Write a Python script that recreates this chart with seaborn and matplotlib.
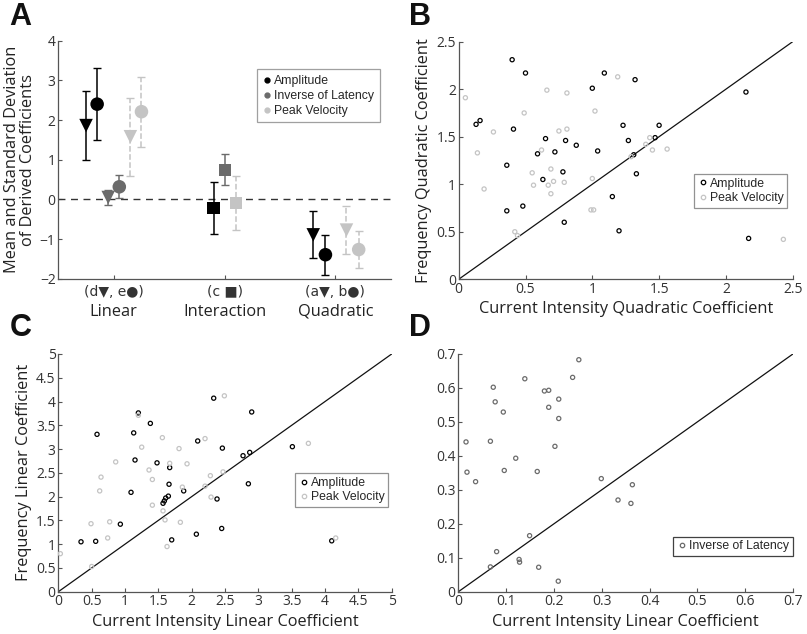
import numpy as np
import pandas as pd
import matplotlib
matplotlib.use('Agg')
import matplotlib.pyplot as plt
import matplotlib.transforms as mtransforms
import seaborn as sns

sns.set_theme(style='white')
plt.rcParams['font.family'] = ['Open Sans', 'DejaVu Sans']
plt.rcParams['xtick.direction'] = 'in'
plt.rcParams['ytick.direction'] = 'in'

# ---------------- panel A data ----------------
categories = ['Linear', 'Interaction', 'Quadratic']
cat_tags = ['(d\u25bc, e\u25cf)', '(c \u25a0)', '(a\u25bc, b\u25cf)']
measures = ['Amplitude', 'Inverse of Latency', 'Peak Velocity']

a_category = ['Linear', 'Linear', 'Linear', 'Linear', 'Linear', 'Linear',
              'Interaction', 'Interaction', 'Interaction',
              'Quadratic', 'Quadratic', 'Quadratic', 'Quadratic']
a_measure = ['Amplitude', 'Amplitude', 'Inverse of Latency', 'Inverse of Latency',
             'Peak Velocity', 'Peak Velocity',
             'Amplitude', 'Inverse of Latency', 'Peak Velocity',
             'Amplitude', 'Amplitude', 'Peak Velocity', 'Peak Velocity']
a_coef = ['d', 'e', 'd', 'e', 'd', 'e', 'c', 'c', 'c', 'a', 'b', 'a', 'b']
a_mean = [1.86, 2.40, 0.05, 0.32, 1.58, 2.21, -0.22, 0.75, -0.10, -0.89, -1.39, -0.77, -1.26]
a_sd = [0.87, 0.91, 0.18, 0.29, 0.98, 0.88, 0.66, 0.39, 0.68, 0.59, 0.50, 0.61, 0.46]

# ---------------- panel B data ----------------
b_amp_x = [0.40, 0.50, 1.09, 1.32, 1.00, 2.15, 0.13, 0.16, 0.41, 1.23, 1.50, 0.65, 0.80,
           0.88, 1.27, 1.47, 0.59, 0.72, 1.04, 1.31, 0.36, 0.78, 1.33, 0.63, 1.15, 0.36,
           0.48, 0.79, 1.20, 2.17]
b_amp_y = [2.31, 2.17, 2.17, 2.10, 2.01, 1.97, 1.63, 1.67, 1.58, 1.62, 1.62, 1.48, 1.46,
           1.41, 1.46, 1.49, 1.32, 1.34, 1.35, 1.31, 1.20, 1.13, 1.11, 1.05, 0.87, 0.72,
           0.77, 0.60, 0.51, 0.43]
b_pv_x = [0.05, 1.19, 0.66, 0.81, 0.49, 1.02, 0.26, 0.75, 0.81, 0.14, 0.62, 1.43, 1.40,
          1.45, 1.56, 1.29, 0.69, 0.55, 0.56, 0.67, 0.71, 0.79, 1.00, 0.69, 0.19, 0.99,
          1.01, 0.42, 0.44, 2.43]
b_pv_y = [1.91, 2.13, 1.99, 1.96, 1.75, 1.77, 1.55, 1.56, 1.58, 1.33, 1.36, 1.49, 1.42,
          1.36, 1.37, 1.29, 1.16, 1.12, 0.99, 0.99, 1.03, 1.02, 1.06, 0.90, 0.95, 0.73,
          0.73, 0.50, 0.46, 0.42]

# ---------------- panel C data ----------------
c_amp_x = [2.33, 2.90, 1.20, 1.38, 0.58, 1.13, 2.09, 2.46, 2.77, 2.87, 3.51, 1.15, 1.48,
           1.67, 1.66, 2.85, 1.09, 1.88, 1.65, 1.61, 1.59, 1.57, 2.38, 0.93, 0.34, 0.56,
           1.70, 2.07, 2.45, 4.10]
c_amp_y = [4.07, 3.78, 3.76, 3.54, 3.31, 3.34, 3.17, 3.02, 2.86, 2.93, 3.05, 2.77, 2.71,
           2.61, 2.26, 2.27, 2.09, 2.12, 2.01, 1.97, 1.91, 1.86, 1.95, 1.42, 1.05, 1.06,
           1.09, 1.21, 1.33, 1.07]
c_pv_x = [2.49, 1.20, 3.75, 2.20, 1.56, 1.25, 1.81, 0.86, 1.67, 1.93, 1.36, 2.47, 0.64,
          1.41, 2.28, 1.86, 2.20, 0.62, 2.29, 1.41, 1.57, 0.49, 0.77, 1.60, 1.83, 0.74,
          1.63, 0.50, 0.03, 4.16]
c_pv_y = [4.12, 3.71, 3.12, 3.22, 3.24, 3.04, 3.01, 2.73, 2.70, 2.69, 2.56, 2.52, 2.41,
          2.36, 2.44, 2.20, 2.22, 2.12, 1.99, 1.82, 1.70, 1.43, 1.47, 1.51, 1.46, 1.13,
          0.95, 0.53, 0.80, 1.13]

# ---------------- panel D data ----------------
d_lat_x = [0.252, 0.239, 0.139, 0.073, 0.180, 0.189, 0.077, 0.210, 0.189, 0.094, 0.210,
           0.016, 0.067, 0.202, 0.120, 0.018, 0.096, 0.165, 0.036, 0.299, 0.364, 0.334,
           0.361, 0.149, 0.080, 0.127, 0.128, 0.067, 0.168, 0.209]
d_lat_y = [0.683, 0.631, 0.627, 0.602, 0.591, 0.593, 0.559, 0.567, 0.543, 0.529, 0.510,
           0.441, 0.443, 0.428, 0.393, 0.352, 0.357, 0.354, 0.324, 0.333, 0.315, 0.270,
           0.260, 0.165, 0.118, 0.095, 0.087, 0.073, 0.072, 0.031]

colors = {'Amplitude': '#000000', 'Inverse of Latency': '#6b6b6b', 'Peak Velocity': '#c4c4c4'}
markers = {'a': 'v', 'b': 'o', 'c': 's', 'd': 'v', 'e': 'o'}
# horizontal dodge of each point in panel A
dodge = [-0.25, -0.15, -0.05, 0.05, 0.15, 0.25, -0.1, 0.0, 0.1, -0.2, -0.09, 0.1, 0.21]

tick_c = '#333333'
spine_c = '#555555'
label_fs = 11.8

fig = plt.figure(figsize=(8.07, 6.34), dpi=100)
axA = fig.add_axes([0.0723, 0.560, 0.412, 0.376])
axB = fig.add_axes([0.5684, 0.5595, 0.4139, 0.3748])
axC = fig.add_axes([0.0723, 0.0667, 0.4131, 0.375])
axD = fig.add_axes([0.568, 0.0667, 0.4146, 0.375])


def style_axes(ax):
    sns.despine(ax=ax)
    for s in ['left', 'bottom']:
        ax.spines[s].set_color(spine_c)
        ax.spines[s].set_linewidth(0.9)
    ax.tick_params(axis='both', colors=spine_c, labelcolor=tick_c, labelsize=10,
                   length=3, width=0.8, pad=2, left=True, bottom=True)


# ---------------- panel A ----------------
dfA = pd.DataFrame({'category': a_category, 'measure': a_measure, 'coef': a_coef,
                    'mean': a_mean, 'sd': a_sd})
dfA['x'] = dfA['category'].map({c: i + 1 for i, c in enumerate(categories)}) + np.array(dodge)

axA.axhline(0, color='#333333', lw=1.0, ls=(0, (5, 4)), zorder=1)
for _, r in dfA.iterrows():
    ls = '--' if r['measure'] == 'Peak Velocity' else '-'
    eb = axA.errorbar(r['x'], r['mean'], yerr=r['sd'], fmt='none', ecolor=colors[r['measure']],
                      elinewidth=1.1, capsize=3, capthick=1.0, zorder=2)
    eb[2][0].set_linestyle(ls)
for mk in ['v', 'o', 's']:
    sub = dfA[dfA['coef'].map(markers) == mk]
    sns.scatterplot(data=sub, x='x', y='mean', hue='measure', palette=colors, marker=mk,
                    s=95 if mk != 's' else 75, edgecolor='none', legend=False, ax=axA, zorder=3)
axA.set_xlim(0.5, 3.5)
axA.set_ylim(-2, 4)
axA.set_yticks([-2, -1, 0, 1, 2, 3, 4])
axA.set_xticks([1, 2, 3])
axA.set_xticklabels(cat_tags, family=['DejaVu Sans'], fontsize=8.5)
style_axes(axA)
axA.tick_params(axis='x', pad=4)
trans = mtransforms.blended_transform_factory(axA.transData, axA.transAxes)
for i, c in enumerate(categories):
    axA.text(i + 1, -0.137, c, transform=trans, ha='center', va='center', fontsize=label_fs,
             color='#222222')
axA.set_xlabel('')
axA.set_ylabel('Mean and Standard Deviation\nof Derived Coefficients', fontsize=label_fs,
               color='#222222', labelpad=3, linespacing=1.0)
handles = [plt.Line2D([], [], marker='o', ls='none', color=colors[m], markersize=3.5, label=m)
           for m in measures]
leg = axA.legend(handles=handles, loc='upper left', bbox_to_anchor=(0.578, 0.905),
                 frameon=True, fancybox=False, handletextpad=0.2, handlelength=0.8,
                 borderpad=0.45, labelspacing=0.25, prop={'family': 'Liberation Sans', 'size': 8.8})
leg.get_frame().set_edgecolor('#888888')
leg.get_frame().set_linewidth(0.9)


# ---------------- scatter panels ----------------
def scatter_panel(ax, series, lim, ticks, xlabel, ylabel, leg_loc, leg_anchor, leg_edge):
    rows = []
    for name, xs, ys in series:
        rows.append(pd.DataFrame({'x': xs, 'y': ys, 'measure': name}))
    df = pd.concat(rows, ignore_index=True)
    ax.plot([0, lim], [0, lim], color='#111111', lw=0.9, zorder=1)
    for name, _, _ in series:
        sub = df[df['measure'] == name]
        sns.scatterplot(data=sub, x='x', y='y', marker='o', s=9, facecolor='none',
                        edgecolor=colors[name], linewidth=0.9, legend=False, ax=ax, zorder=3)
    ax.set_xlim(0, lim)
    ax.set_ylim(0, lim)
    ax.set_xticks(ticks)
    ax.set_yticks(ticks)
    ax.set_xticklabels([f'{t:g}' for t in ticks])
    ax.set_yticklabels([f'{t:g}' for t in ticks])
    style_axes(ax)
    ax.set_xlabel(xlabel, fontsize=label_fs, color='#222222', labelpad=3)
    ax.set_ylabel(ylabel, fontsize=label_fs, color='#222222', labelpad=3)
    handles = [plt.Line2D([], [], marker='o', ls='none', markerfacecolor='none',
                          markeredgecolor=colors[n], markeredgewidth=0.9, markersize=3.2, label=n)
               for n, _, _ in series]
    lg = ax.legend(handles=handles, loc=leg_loc, bbox_to_anchor=leg_anchor, frameon=True,
                   fancybox=False, handletextpad=0.2, handlelength=0.8, borderpad=0.3,
                   borderaxespad=0, labelspacing=0.2,
                   prop={'family': 'Liberation Sans', 'size': 8.8})
    lg.get_frame().set_edgecolor(leg_edge)
    lg.get_frame().set_linewidth(0.9)


scatter_panel(axB, [('Amplitude', b_amp_x, b_amp_y), ('Peak Velocity', b_pv_x, b_pv_y)],
              2.5, [0, 0.5, 1, 1.5, 2, 2.5], 'Current Intensity Quadratic Coefficient',
              'Frequency Quadratic Coefficient', 'upper right', (0.984, 0.443), '#777777')
scatter_panel(axC, [('Amplitude', c_amp_x, c_amp_y), ('Peak Velocity', c_pv_x, c_pv_y)],
              5, [0, 0.5, 1, 1.5, 2, 2.5, 3, 3.5, 4, 4.5, 5], 'Current Intensity Linear Coefficient',
              'Frequency Linear Coefficient', 'upper right', (0.99, 0.498), '#777777')
scatter_panel(axD, [('Inverse of Latency', d_lat_x, d_lat_y)],
              0.7, [0, 0.1, 0.2, 0.3, 0.4, 0.5, 0.6, 0.7], 'Current Intensity Linear Coefficient',
              '', 'upper right', (1.0, 0.232), '#111111')

for lab, (x, y) in zip('ABCD', [(0.012, 0.997), (0.507, 0.997), (0.012, 0.507), (0.507, 0.507)]):
    fig.text(x, y, lab, fontsize=22, fontweight='bold', ha='left', va='top',
             family=['Liberation Sans', 'DejaVu Sans'], color='#111111')

fig.savefig('out.png', dpi=100)
